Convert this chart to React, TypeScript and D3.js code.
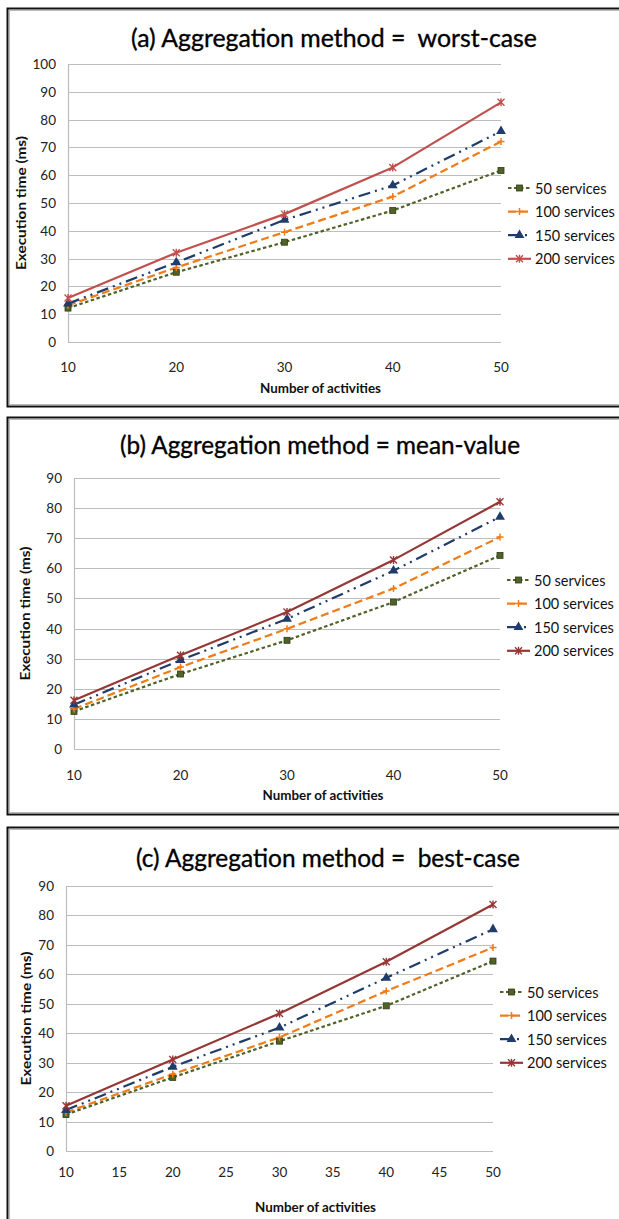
import { useEffect, useRef } from 'react';
import * as d3 from 'd3';

const activities = [10, 20, 30, 40, 50];
const seriesNames = ['50 services', '100 services', '150 services', '200 services'];

// execution time (ms) per series, one row per service count
const worstCase = [
  [12.2, 25.1, 35.9, 47.3, 61.7],
  [13.2, 26.8, 39.5, 52.3, 72.1],
  [13.8, 28.6, 43.9, 56.3, 75.8],
  [15.8, 32.1, 46.0, 62.8, 86.2],
];
const meanValue = [
  [12.5, 24.9, 36.1, 48.8, 64.3],
  [13.3, 27.2, 39.9, 53.3, 70.4],
  [14.7, 29.5, 43.2, 59.2, 77.1],
  [16.2, 31.1, 45.5, 62.8, 82.1],
];
const bestCase = [
  [12.4, 25.0, 37.3, 49.3, 64.5],
  [13.1, 26.1, 38.6, 54.3, 69.1],
  [13.9, 28.6, 41.9, 58.8, 75.3],
  [15.4, 31.1, 46.7, 64.3, 83.7],
];

const ticksA = [0, 10, 20, 30, 40, 50, 60, 70, 80, 90, 100];
const ticksBC = [0, 10, 20, 30, 40, 50, 60, 70, 80, 90];
const xTicksAB = [10, 20, 30, 40, 50];
const xTicksC = [10, 15, 20, 25, 30, 35, 40, 45, 50];

const FONT = 'Lato, "Open Sans", sans-serif';

export default function App() {
  const svgRef = useRef<SVGSVGElement>(null);

  useEffect(() => {
    const svg = d3.select(svgRef.current);
    svg.selectAll('*').remove();

    const W = 619, H = 1219;
    svg.attr('width', W).attr('height', H).attr('viewBox', `0 0 ${W} ${H}`);
    svg.append('rect').attr('width', W).attr('height', H).attr('fill', '#fff');

    const panels = [
      {
        title: '(a) Aggregation method =  worst-case', data: worstCase,
        top: 8, bottom: 406, titleX: 334, titleY: 46, titleW: 406,
        l: 68, r: 501, t: 64, b: 342, yMax: 100, yTicks: ticksA, xTicks: xTicksAB,
        tickY: 372, xLabelY: 393, yLabelX: 21, legY: 188, red: '#c0504d',
      },
      {
        title: '(b) Aggregation method = mean-value', data: meanValue,
        top: 417, bottom: 814, titleX: 320, titleY: 453, titleW: 400,
        l: 74, r: 500, t: 478, b: 749, yMax: 90, yTicks: ticksBC, xTicks: xTicksAB,
        tickY: 780, xLabelY: 800, yLabelX: 25, legY: 580, red: '#953735',
      },
      {
        title: '(c) Aggregation method =  best-case', data: bestCase,
        top: 827, bottom: 1240, titleX: 328, titleY: 866, titleW: 384,
        l: 66, r: 493, t: 886, b: 1151, yMax: 90, yTicks: ticksBC, xTicks: xTicksC,
        tickY: 1177, xLabelY: 1212, yLabelX: 26, legY: 992, red: '#953735',
      },
    ];

    panels.forEach(p => {
      // frame: dark outer line with a grey inner line
      svg.append('rect')
        .attr('x', 7.5).attr('y', p.top + 0.5)
        .attr('width', 640).attr('height', p.bottom - p.top)
        .attr('fill', '#fff').attr('stroke', '#111').attr('stroke-width', 2);
      svg.append('rect')
        .attr('x', 9.5).attr('y', p.top + 2.5)
        .attr('width', 640).attr('height', p.bottom - p.top - 4)
        .attr('fill', 'none').attr('stroke', '#b8b8b8').attr('stroke-width', 1);

      const x = d3.scaleLinear().domain([10, 50]).range([p.l, p.r]);
      const y = d3.scaleLinear().domain([0, p.yMax]).range([p.b, p.t]);
      const g = svg.append('g');

      g.append('text')
        .attr('x', p.titleX).attr('y', p.titleY + 1)
        .attr('text-anchor', 'middle')
        .attr('font-family', FONT).attr('font-size', 25).attr('fill', '#000')
        .attr('stroke', '#000').attr('stroke-width', 0.35)
        .attr('textLength', p.titleW).attr('lengthAdjust', 'spacingAndGlyphs')
        .style('white-space', 'pre')
        .text(p.title);

      // grid
      p.yTicks.forEach(v => {
        g.append('line')
          .attr('x1', p.l).attr('x2', p.r)
          .attr('y1', Math.round(y(v)) + 0.5).attr('y2', Math.round(y(v)) + 0.5)
          .attr('stroke', '#bdbdbd').attr('stroke-width', 1.2);
        g.append('text')
          .attr('x', p.l - 12).attr('y', y(v) + 5)
          .attr('text-anchor', 'end')
          .attr('font-family', FONT).attr('font-size', 13.5).attr('fill', '#222')
          .text(v);
      });
      g.append('line')
        .attr('x1', p.l + 0.5).attr('x2', p.l + 0.5)
        .attr('y1', p.t).attr('y2', p.b)
        .attr('stroke', '#bdbdbd').attr('stroke-width', 1.2);

      p.xTicks.forEach(v => {
        g.append('text')
          .attr('x', x(v)).attr('y', p.tickY)
          .attr('text-anchor', 'middle')
          .attr('font-family', FONT).attr('font-size', 13.5).attr('fill', '#222')
          .text(v);
      });

      g.append('text')
        .attr('x', (p.l + p.r) / 2 + 36).attr('y', p.xLabelY)
        .attr('text-anchor', 'middle')
        .attr('font-family', FONT).attr('font-size', 13).attr('font-weight', 'bold').attr('fill', '#111')
        .attr('textLength', 121).attr('lengthAdjust', 'spacingAndGlyphs')
        .text('Number of activities');
      g.append('text')
        .attr('transform', `translate(${p.yLabelX},${(p.t + p.b) / 2}) rotate(-90)`)
        .attr('text-anchor', 'middle').attr('dy', 4.5)
        .attr('font-family', FONT).attr('font-size', 13).attr('font-weight', 'bold').attr('fill', '#111')
        .attr('textLength', 134).attr('lengthAdjust', 'spacingAndGlyphs')
        .text('Execution time (ms)');

      const styles = [
        { color: '#4f6228', dash: '3.5,2.5' },
        { color: '#f07c18', dash: '8,4' },
        { color: '#1f3c6a', dash: '12,5,2,5,2,5' },
        { color: p.red, dash: null as string | null },
      ];

      const marker = (sel: d3.Selection<SVGGElement, unknown, null, undefined>, i: number, cx: number, cy: number) => {
        const c = styles[i].color;
        if (i === 0) {
          sel.append('rect').attr('x', cx - 3).attr('y', cy - 3).attr('width', 6).attr('height', 6)
            .attr('fill', c).attr('stroke', '#2f3d14').attr('stroke-width', 0.8);
        } else if (i === 1) {
          sel.append('path').attr('d', `M${cx - 3.5},${cy}H${cx + 3.5}M${cx},${cy - 3.5}V${cy + 3.5}`)
            .attr('stroke', c).attr('stroke-width', 1.5);
        } else if (i === 2) {
          sel.append('path').attr('transform', `translate(${cx},${cy})`)
            .attr('d', d3.symbol().type(d3.symbolTriangle).size(42)())
            .attr('fill', c);
        } else {
          sel.append('path')
            .attr('d', `M${cx - 3.5},${cy - 3.5}L${cx + 3.5},${cy + 3.5}M${cx - 3.5},${cy + 3.5}L${cx + 3.5},${cy - 3.5}M${cx},${cy - 4}V${cy + 4}`)
            .attr('stroke', c).attr('stroke-width', 1.4);
        }
      };

      const line = d3.line<number>().x((_, j) => x(activities[j])).y(d => y(d));

      p.data.forEach((vals, i) => {
        g.append('path')
          .attr('d', line(vals))
          .attr('fill', 'none')
          .attr('stroke', styles[i].color)
          .attr('stroke-width', 2.2)
          .attr('stroke-dasharray', styles[i].dash)
          .attr('stroke-linejoin', 'round');
      });
      p.data.forEach((vals, i) => {
        const mg = g.append('g');
        vals.forEach((v, j) => marker(mg, i, x(activities[j]), y(v)));
      });

      // legend
      seriesNames.forEach((name, i) => {
        const ly = p.legY + i * 23.6;
        const lg = g.append('g');
        lg.append('line')
          .attr('x1', p.r + 7).attr('x2', p.r + 30)
          .attr('y1', ly).attr('y2', ly)
          .attr('stroke', styles[i].color).attr('stroke-width', 2.2)
          .attr('stroke-dasharray', styles[i].dash);
        marker(lg, i, p.r + 18.5, ly);
        lg.append('text')
          .attr('x', p.r + 34).attr('y', ly + 5.5)
          .attr('font-family', FONT).attr('font-size', 14.5).attr('fill', '#111')
          .text(name);
      });
    });
  }, []);

  return (
    <svg
      ref={svgRef}
      style={{ position: 'absolute', left: 0, top: 0, display: 'block' }}
      role="img"
      aria-label="Execution time by number of activities for three aggregation methods"
    />
  );
}
